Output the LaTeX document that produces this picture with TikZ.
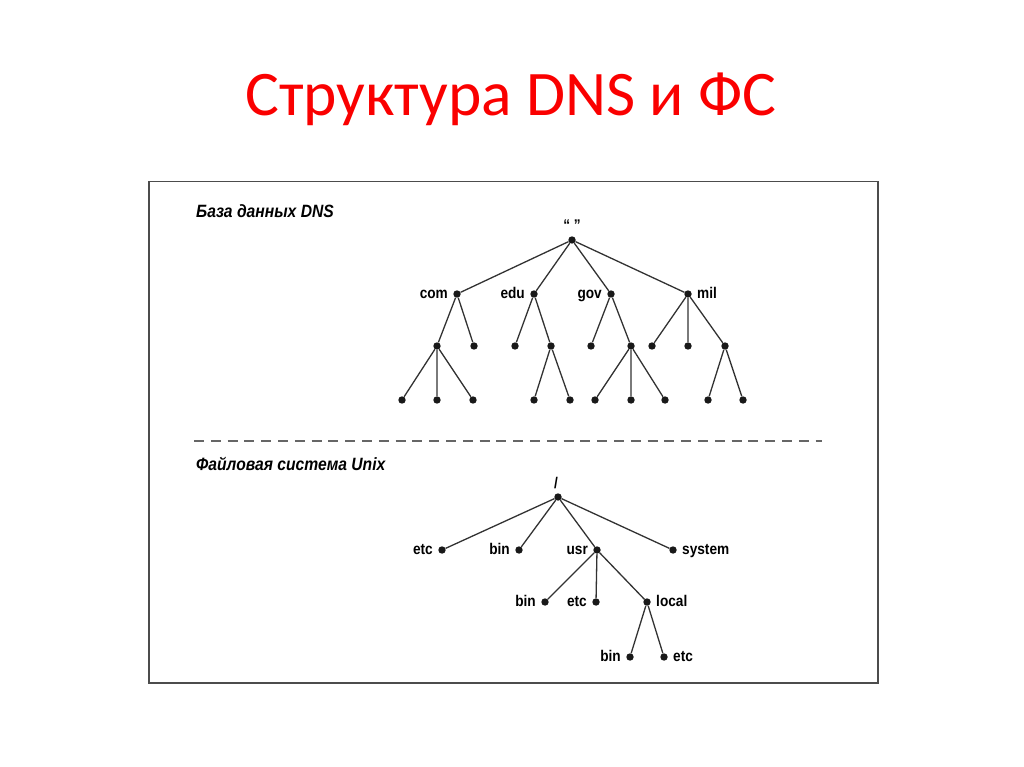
\documentclass[tikz,border=0pt]{standalone}
\usepackage{fontspec}
\setmainfont{Carlito}
\newfontfamily\hv[FakeStretch=0.88]{Liberation Sans}
\definecolor{titlered}{RGB}{250,0,0}
\definecolor{edgecol}{RGB}{50,50,50}
\begin{document}
\begin{tikzpicture}[x=1pt,y=-1pt,
  dot/.style={circle,fill=black!90,inner sep=0pt,minimum size=7.4pt},
  edge/.style={draw=edgecol,line width=1.3pt},
  lab/.style={font=\hv\bfseries\fontsize{15.5}{18}\selectfont,inner sep=0pt},
  labl/.style={lab,anchor=base east},
  labr/.style={lab,anchor=base west},
  head/.style={font=\hv\bfseries\itshape\fontsize{17.8}{20}\selectfont,inner sep=0pt,anchor=west}]
\useasboundingbox (0,0) rectangle (1024,767);
\node[text=titlered,font=\fontsize{63.5}{70}\selectfont,inner sep=0pt,anchor=base] (title) at (511,116) {Структура DNS и ФС};
\node[draw=black!70,line width=1.5pt,minimum width=729pt,minimum height=501pt,inner sep=0pt,anchor=north west] (frame) at (148,181) {};
\node[head] (h1) at (196,211) {База данных DNS};
\node[head] (h2) at (196,464) {Файловая система Unix};
\coordinate (dl) at (194,441);
\coordinate (dr) at (822,441);
\draw[draw=black!60,line width=1.5pt,dash pattern=on 10pt off 6.8pt] (dl) -- (dr);
% DNS tree
\node[dot] (r) at (572,240) {};
\node[lab,anchor=base] (rl) at (572,230) {“ ”};
\node[dot] (com) at (457,294) {};
\node[dot] (edu) at (534,294) {};
\node[dot] (gov) at (611,294) {};
\node[dot] (mil) at (688,294) {};
\node[labl] at ([xshift=-9pt,yshift=-4.5pt]com.center) {com};
\node[labl] at ([xshift=-9pt,yshift=-4.5pt]edu.center) {edu};
\node[labl] at ([xshift=-9pt,yshift=-4.5pt]gov.center) {gov};
\node[labr] at ([xshift=9pt,yshift=-4.5pt]mil.center) {mil};
\node[dot] (c1) at (437,346) {};
\node[dot] (c2) at (474,346) {};
\node[dot] (e1) at (515,346) {};
\node[dot] (e2) at (551,346) {};
\node[dot] (g1) at (591,346) {};
\node[dot] (g2) at (631,346) {};
\node[dot] (m1) at (652,346) {};
\node[dot] (m2) at (688,346) {};
\node[dot] (m3) at (725,346) {};
\node[dot] (c11) at (402,400) {};
\node[dot] (c12) at (437,400) {};
\node[dot] (c13) at (473,400) {};
\node[dot] (e21) at (534,400) {};
\node[dot] (e22) at (570,400) {};
\node[dot] (g21) at (595,400) {};
\node[dot] (g22) at (631,400) {};
\node[dot] (g23) at (665,400) {};
\node[dot] (m31) at (708,400) {};
\node[dot] (m32) at (743,400) {};
\path[edge] (r) -- (com) (r) -- (edu) (r) -- (gov) (r) -- (mil)
  (com) -- (c1) (com) -- (c2) (edu) -- (e1) (edu) -- (e2)
  (gov) -- (g1) (gov) -- (g2) (mil) -- (m1) (mil) -- (m2) (mil) -- (m3)
  (c1) -- (c11) (c1) -- (c12) (c1) -- (c13)
  (e2) -- (e21) (e2) -- (e22)
  (g2) -- (g21) (g2) -- (g22) (g2) -- (g23)
  (m3) -- (m31) (m3) -- (m32);
% Unix tree
\node[dot] (u) at (558,497) {};
\node[lab,anchor=base] (ul) at (556,488) {/};
\node[dot] (etc) at (442,550) {};
\node[dot] (bin) at (519,550) {};
\node[dot] (usr) at (597,550) {};
\node[dot] (sys) at (673,550) {};
\node[labl] at ([xshift=-9pt,yshift=-4.5pt]etc.center) {etc};
\node[labl] at ([xshift=-9pt,yshift=-4.5pt]bin.center) {bin};
\node[labl] at ([xshift=-9pt,yshift=-4.5pt]usr.center) {usr};
\node[labr] at ([xshift=9pt,yshift=-4.5pt]sys.center) {system};
\node[dot] (ubin) at (545,602) {};
\node[dot] (uetc) at (596,602) {};
\node[dot] (loc) at (647,602) {};
\node[labl] at ([xshift=-9pt,yshift=-4.5pt]ubin.center) {bin};
\node[labl] at ([xshift=-9pt,yshift=-4.5pt]uetc.center) {etc};
\node[labr] at ([xshift=9pt,yshift=-4.5pt]loc.center) {local};
\node[dot] (lbin) at (630,657) {};
\node[dot] (letc) at (664,657) {};
\node[labl] at ([xshift=-9pt,yshift=-4.5pt]lbin.center) {bin};
\node[labr] at ([xshift=9pt,yshift=-4.5pt]letc.center) {etc};
\path[edge] (u) -- (etc) (u) -- (bin) (u) -- (usr) (u) -- (sys)
  (usr) -- (ubin) (usr) -- (uetc) (usr) -- (loc)
  (loc) -- (lbin) (loc) -- (letc);
\end{tikzpicture}
\end{document}
